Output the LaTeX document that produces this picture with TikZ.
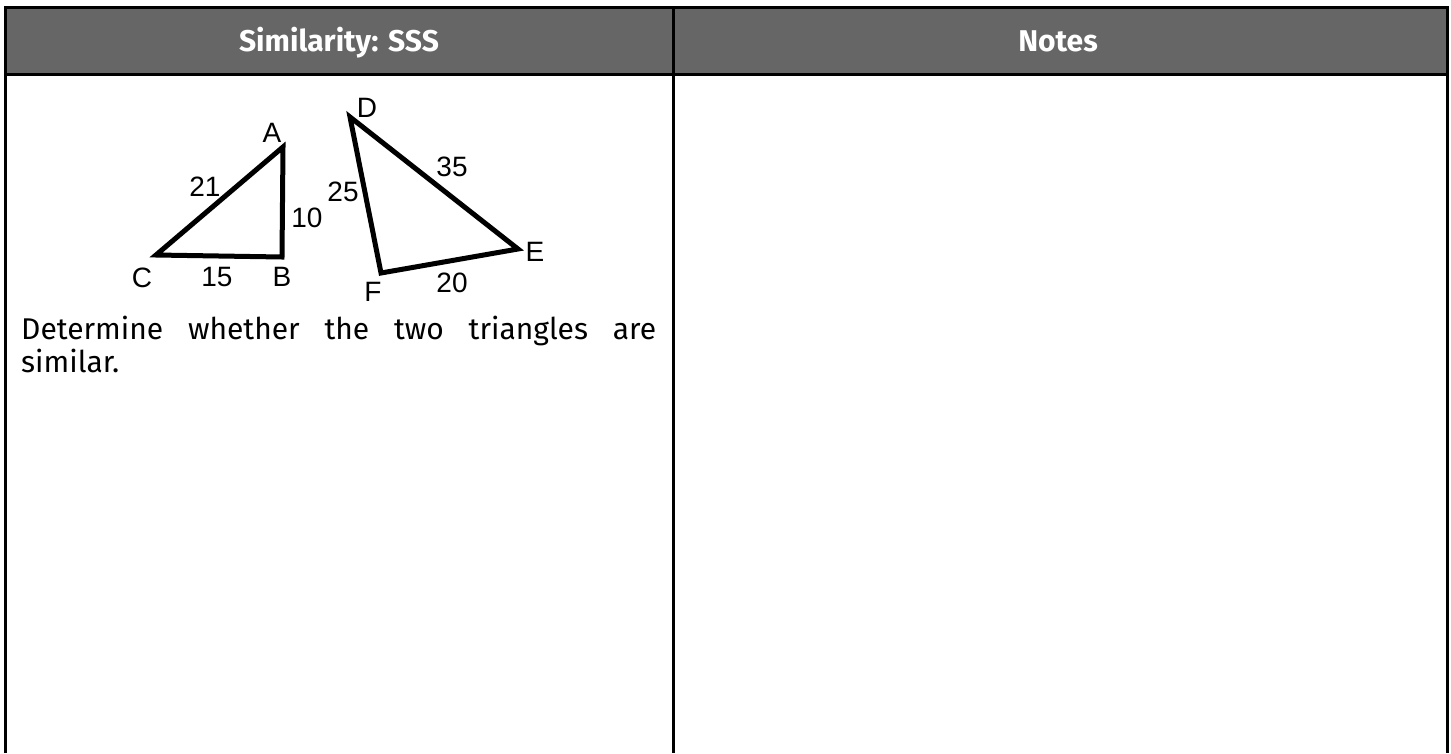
\documentclass[tikz,border=0pt]{standalone}
\usepackage{fontspec}
\setmainfont{Fira Sans}
\newfontfamily\figfont{Liberation Sans}
\usetikzlibrary{calc}
\definecolor{headgray}{HTML}{666666}

\begin{document}
\begin{tikzpicture}[x=1pt,y=-1pt,
    rule/.style={line width=3pt},
    tri/.style={line width=5pt,line join=miter},
    lbl/.style={font=\figfont\fontsize{28}{28}\selectfont,inner sep=0pt},
    head/.style={font=\bfseries\fontsize{30}{30}\selectfont,text=white,anchor=base,inner sep=0pt}]
\useasboundingbox (0,0) rectangle (1451,753);

\coordinate (TL) at (5,7);
\coordinate (TM) at (673,7);
\coordinate (TR) at (1447,7);
\coordinate (HL) at (5,74);
\coordinate (HR) at (1447,74);
\coordinate (BL) at (5,753);
\coordinate (BM) at (673,753);
\coordinate (BR) at (1447,753);

\fill[headgray] (TL) rectangle (HR);
\draw[rule] (BL) -- (TL) -- (TR) -- (BR);
\draw[rule] (HL) -- (HR);
\draw[rule] (TM) -- (BM);

\node[head] (simhead) at (339,51) {Similarity: SSS};
\node[head] (noteshead) at (1058,51) {Notes};
%%
\coordinate (A) at (283,147);
\coordinate (B) at (282,257);
\coordinate (C) at (156,255);

\coordinate (D) at (350,117);
\coordinate (E) at (518,249);
\coordinate (F) at (381,273);

\draw[tri] (A) -- (B) -- (C) -- cycle;
\draw[tri] (D) -- (E) -- (F) -- cycle;

\node[lbl] (labA) at (272,133) {A};
\node[lbl] (labB) at (282,277) {B};
\node[lbl] (labC) at (142,278) {C};
\node[lbl] (labD) at (367,108) {D};
\node[lbl] (labE) at (535,252) {E};
\node[lbl] (labF) at (373,292) {F};
%
\node[lbl] (sideCA) at (205,187) {21};
\node[lbl] (sideAB) at (307,218) {10};
\node[lbl] (sideCB) at (217,277) {15};
\node[lbl] (sideDF) at (343,192) {25};
\node[lbl] (sideDE) at (452,167) {35};
\node[lbl] (sideFE) at (452,283) {20};
%%
\node[anchor=north west,inner sep=0pt,text width=635pt,align=justify,
      font=\fontsize{30}{33}\selectfont] (task) at (21,316)
    {Determine whether the two triangles are\linebreak similar.};
\end{tikzpicture}
\end{document}
